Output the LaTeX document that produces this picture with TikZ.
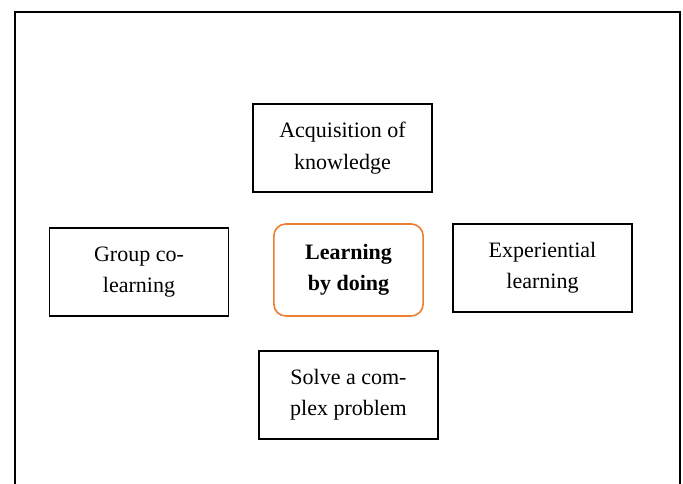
\documentclass[tikz,border=0pt]{standalone}
\usepackage{fontspec}
\setmainfont{Liberation Serif}
\usepackage{tikz}
\usetikzlibrary{positioning}
\definecolor{boxorange}{RGB}{237,125,49}

\tikzset{
    item/.style={draw,line width=1.2pt,minimum width=134pt,minimum height=66pt,
        align=center,font=\fontsize{16.5}{23.5}\selectfont},
    core/.style={item,draw=boxorange,rounded corners=9pt,minimum width=112pt,
        minimum height=69pt,font=\fontsize{16.5}{23.5}\selectfont\bfseries}
}

\begin{document}
\begin{tikzpicture}[x=0.75pt,y=-0.75pt]
    \useasboundingbox (0,0) rectangle (683,484);
    \draw[line width=1.5pt] (15,484) -- (15,12) -- (680,12) -- (680,484);
    \node[core] (doing) at (348.5,270) {Learning\\by doing};
    \node[item] (know) at (342.5,148) {Acquisition of\\knowledge};
    \node[item] (group) at (139,272) {Group co-\\learning};
    \node[item] (exp) at (542.5,268) {Experiential\\learning};
    \node[item] (solve) at (348.5,395) {Solve a com-\\plex problem};
\end{tikzpicture}
\end{document}
